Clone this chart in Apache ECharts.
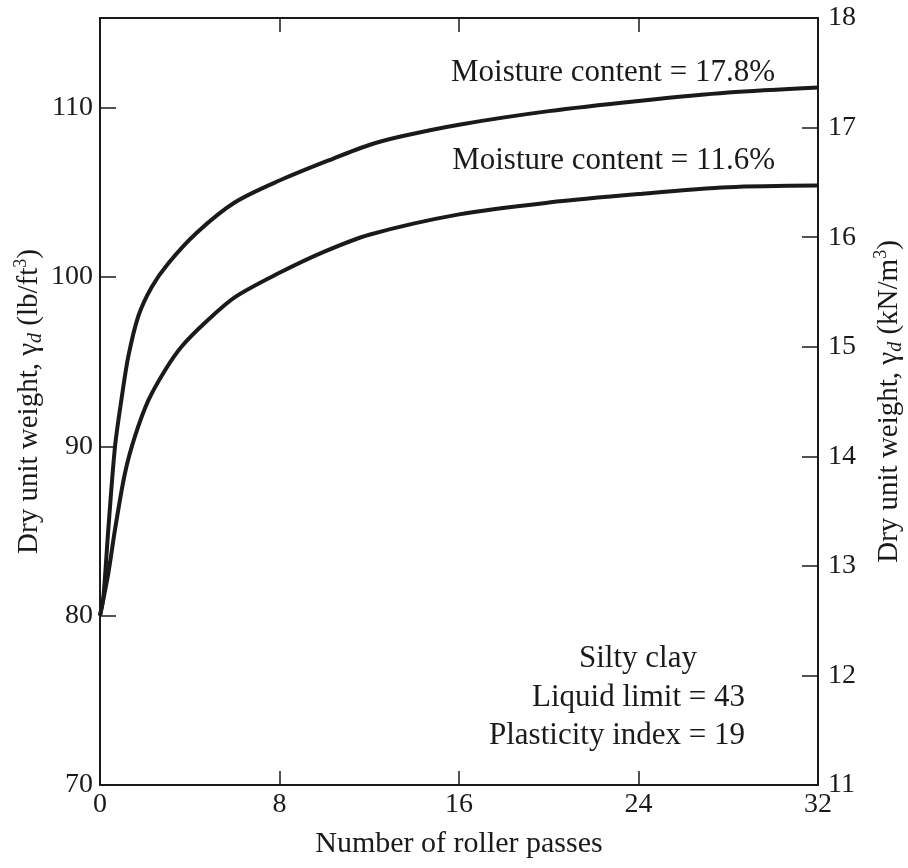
<!DOCTYPE html>
<html>
<head>
<meta charset="utf-8">
<script src="https://cdn.jsdelivr.net/npm/echarts@6/dist/echarts.min.js"></script>
<style>
  html, body { margin: 0; padding: 0; background: #fff; }
  #chart { width: 908px; height: 868px; }
</style>
</head>
<body>
<div id="chart"></div>
<script>
// roller passes vs dry unit weight (lb/ft3)
const passes178 = [0, 0.15, 0.37, 0.67, 0.97, 1.26, 1.71, 2.3, 3.04, 4.3, 6, 8, 10.4, 12, 13.4, 16, 20, 24, 28, 32];
const weight178 = [80, 81.1, 85.1, 90, 92.9, 95.3, 97.7, 99.4, 100.8, 102.6, 104.4, 105.7, 107.0, 107.8, 108.3, 109, 109.8, 110.4, 110.9, 111.2];
const passes116 = [0, 0.37, 0.67, 1.11, 1.56, 2.15, 2.9, 3.64, 4.68, 6, 8, 10, 12, 16, 20, 24, 28, 32];
const weight116 = [80, 82.5, 85.1, 88.4, 90.6, 92.7, 94.5, 95.9, 97.3, 98.8, 100.25, 101.5, 102.5, 103.7, 104.4, 104.9, 105.3, 105.4];

const xTicks = [0, 8, 16, 24, 32];
const leftTicks = [70, 80, 90, 100, 110];
const rightTicks = [11, 12, 13, 14, 15, 16, 17, 18];

const serif = "Liberation Serif";
const ink = "#1a1a1a";

function pairs(xs, ys) {
  let out = [];
  for (let i = 0; i < xs.length; i++) {
    out.push([xs[i], ys[i]]);
  }
  return out;
}

const chart = echarts.init(document.getElementById("chart"));

const nameRich = {
  base: { fontFamily: serif, fontSize: 29, color: ink, lineHeight: 34 },
  sub: { fontFamily: serif, fontSize: 20, fontStyle: "italic", color: ink, verticalAlign: "bottom", lineHeight: 34 },
  sup: { fontFamily: serif, fontSize: 18, color: ink, verticalAlign: "top", lineHeight: 34 },
};

const tickLine = { color: ink, width: 1.5 };
const axisLine = { show: true, onZero: false, lineStyle: { color: ink, width: 2 } };

const option = {
  animation: false,
  backgroundColor: "#fff",
  grid: { left: 100, right: 90, top: 18, bottom: 83, outerBoundsMode: "none", containLabel: false },
  xAxis: [
    {
      type: "value",
      min: 0,
      max: 32,
      interval: 8,
      name: "Number of roller passes",
      nameLocation: "middle",
      nameGap: 44,
      nameTextStyle: { fontFamily: serif, fontSize: 30, color: ink },
      axisLine: axisLine,
      axisTick: { inside: true, length: 14, lineStyle: tickLine },
      axisLabel: {
        fontFamily: serif, fontSize: 28, color: ink, margin: 6,
        formatter: (v) => (xTicks.indexOf(v) >= 0 ? String(v) : ""),
      },
      splitLine: { show: false },
    },
    {
      type: "value",
      position: "top",
      min: 0,
      max: 32,
      interval: 8,
      axisLine: axisLine,
      axisTick: { inside: true, length: 14, lineStyle: tickLine },
      axisLabel: { show: false },
      splitLine: { show: false },
    },
  ],
  yAxis: [
    {
      type: "value",
      position: "left",
      min: 70,
      max: 115.3,
      interval: 10,
      name: "{base|Dry unit weight, γ}{sub|d}{base| (lb/ft}{sup|3}{base|)}",
      nameLocation: "middle",
      nameRotate: 90,
      nameGap: 54,
      nameMoveOverlap: false,
      nameTextStyle: { rich: nameRich },
      axisLine: axisLine,
      axisTick: { inside: true, length: 16, lineStyle: tickLine },
      axisLabel: {
        fontFamily: serif, fontSize: 28, color: ink, margin: 7,
        formatter: (v) => (leftTicks.indexOf(v) >= 0 ? String(v) : ""),
      },
      splitLine: { show: false },
    },
    {
      type: "value",
      position: "right",
      min: 11,
      max: 18,
      interval: 1,
      name: "{base|Dry unit weight, γ}{sub|d}{base| (kN/m}{sup|3}{base|)}",
      nameLocation: "middle",
      nameRotate: 90,
      nameGap: 54,
      nameTextStyle: { rich: nameRich },
      axisLine: axisLine,
      axisTick: { inside: true, length: 16, lineStyle: tickLine },
      axisLabel: {
        fontFamily: serif, fontSize: 28, color: ink, margin: 10,
        formatter: (v) => (rightTicks.indexOf(v) >= 0 ? String(v) : ""),
      },
      splitLine: { show: false },
    },
  ],
  series: [
    {
      name: "Moisture content = 17.8%",
      type: "line",
      xAxisIndex: 0,
      yAxisIndex: 0,
      data: pairs(passes178, weight178),
      smooth: 0.3,
      showSymbol: false,
      lineStyle: { color: ink, width: 4 },
    },
    {
      name: "Moisture content = 11.6%",
      type: "line",
      xAxisIndex: 0,
      yAxisIndex: 0,
      data: pairs(passes116, weight116),
      smooth: 0.3,
      showSymbol: false,
      lineStyle: { color: ink, width: 4 },
    },
  ],
  graphic: [
    {
      type: "text", right: 133, top: 57,
      style: { text: "Moisture content = 17.8%", font: "31px " + serif, fill: ink },
    },
    {
      type: "text", right: 133, top: 145,
      style: { text: "Moisture content = 11.6%", font: "31px " + serif, fill: ink },
    },
    {
      type: "text", left: 579, top: 643,
      style: { text: "Silty clay", font: "31px " + serif, fill: ink },
    },
    {
      type: "text", right: 163, top: 682,
      style: { text: "Liquid limit = 43", font: "31px " + serif, fill: ink },
    },
    {
      type: "text", right: 163, top: 720,
      style: { text: "Plasticity index = 19", font: "31px " + serif, fill: ink },
    },
  ],
};

chart.setOption(option);
</script>
</body>
</html>
